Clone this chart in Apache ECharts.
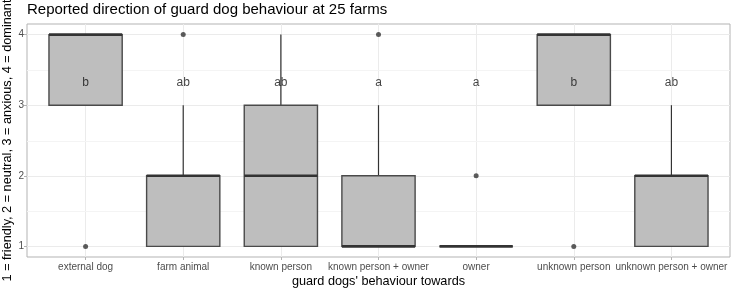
<!DOCTYPE html>
<html><head><meta charset="utf-8">
<script src="https://cdn.jsdelivr.net/npm/echarts@6/dist/echarts.min.js"></script>
<style>html,body{margin:0;padding:0;background:#fff}#c{width:732px;height:288px}</style>
</head><body><div id="c"></div>
<script>
const categories = ['external dog','farm animal','known person','known person + owner','owner','unknown person','unknown person + owner'];
const lowerWhisker = [3, 1, 1, 1, 1, 3, 1];
const q1Values     = [3, 1, 1, 1, 1, 3, 1];
const medianValues = [4, 2, 2, 1, 1, 4, 2];
const q3Values     = [4, 2, 3, 2, 1, 4, 2];
const upperWhisker = [4, 3, 4, 3, 1, 4, 3];
const outlierCats   = ['external dog','farm animal','known person + owner','owner','unknown person'];
const outlierValues = [1, 4, 4, 2, 1];
const letters = ['b','ab','ab','a','a','b','ab'];
const letterY = 3.32;
const yTicks = [1, 2, 3, 4];
const yMinor = [1.5, 2.5, 3.5];

const FONT = '"Liberation Sans", Arial, sans-serif';
const xPos = categories.map((c, i) => i + 1);
const boxData = categories.map((c, i) => [i + 1, lowerWhisker[i], q1Values[i], medianValues[i], q3Values[i], upperWhisker[i]]);
const outlierData = outlierCats.map((c, i) => [categories.indexOf(c) + 1, outlierValues[i]]);
const letterData = categories.map((c, i) => [i + 1, letterY, letters[i]]);

const chart = echarts.init(document.getElementById('c'), null, {renderer: 'canvas'});
chart.setOption({
  animation: false,
  title: {
    text: 'Reported direction of guard dog behaviour at 25 farms',
    left: 27, top: 2, padding: 0,
    textStyle: {fontFamily: FONT, fontSize: 15, fontWeight: 'normal', color: '#000'}
  },
  grid: {left: 27, right: 2, top: 24, bottom: 31, show: true, borderColor: '#b3b3b3', borderWidth: 1, backgroundColor: 'transparent', outerBoundsMode: 'none', containLabel: false},
  xAxis: {
    type: 'value', min: 0.4, max: 7.6,
    name: "guard dogs' behaviour towards", nameLocation: 'middle', nameGap: 18, nameMoveOverlap: false,
    nameTextStyle: {fontFamily: FONT, fontSize: 12.7, color: '#000'},
    axisLine: {show: false},
    axisTick: {show: true, customValues: xPos, length: 3, lineStyle: {color: '#b3b3b3'}},
    axisLabel: {customValues: xPos, formatter: v => categories[Math.round(v) - 1] || '', color: '#4d4d4d', fontFamily: FONT, fontSize: 10, margin: 5},
    splitLine: {show: true, lineStyle: {color: '#ebebeb', width: 1}}
  },
  yAxis: {
    type: 'value', min: 0.85, max: 4.15,
    name: '1 = friendly, 2 = neutral, 3 = anxious, 4 = dominant', nameLocation: 'middle', nameGap: 13, nameMoveOverlap: false,
    nameTextStyle: {fontFamily: FONT, fontSize: 12.7, color: '#000'},
    axisLine: {show: false},
    axisTick: {show: true, customValues: yTicks, length: 3, lineStyle: {color: '#b3b3b3'}},
    axisLabel: {customValues: yTicks, color: '#4d4d4d', fontFamily: FONT, fontSize: 10, margin: 3},
    splitLine: {show: true, lineStyle: {color: '#ebebeb', width: 1}}
  },
  series: [
    {
      type: 'custom',
      name: 'minor',
      silent: true,
      data: yMinor.map(v => [v]),
      renderItem: function (params, api) {
        const y = api.coord([0.4, api.value(0)])[1];
        const x0 = api.coord([0.4, 1])[0];
        const x1 = api.coord([7.6, 1])[0];
        return {type: 'line', shape: {x1: x0, y1: Math.round(y) + 0.5, x2: x1, y2: Math.round(y) + 0.5}, style: {stroke: '#f4f4f4', lineWidth: 1}};
      },
      z: 1
    },
    {
      type: 'custom',
      name: 'box',
      data: boxData,
      encode: {x: 0, y: [1, 2, 3, 4, 5]},
      renderItem: function (params, api) {
        const x = api.value(0);
        const halfW = 0.375;
        const pLow = api.coord([x, api.value(1)]);
        const pQ1 = api.coord([x, api.value(2)]);
        const pMed = api.coord([x, api.value(3)]);
        const pQ3 = api.coord([x, api.value(4)]);
        const pHigh = api.coord([x, api.value(5)]);
        const left = api.coord([x - halfW, 1])[0];
        const right = api.coord([x + halfW, 1])[0];
        const children = [];
        children.push({type: 'line', shape: {x1: pLow[0], y1: pLow[1], x2: pQ1[0], y2: pQ1[1]}, style: {stroke: '#333', lineWidth: 1.2}});
        children.push({type: 'line', shape: {x1: pQ3[0], y1: pQ3[1], x2: pHigh[0], y2: pHigh[1]}, style: {stroke: '#333', lineWidth: 1.2}});
        children.push({type: 'rect', shape: {x: left, y: pQ3[1], width: right - left, height: pQ1[1] - pQ3[1]}, style: {fill: '#bebebe', stroke: '#4a4a4a', lineWidth: 1.4}});
        children.push({type: 'line', shape: {x1: left, y1: pMed[1], x2: right, y2: pMed[1]}, style: {stroke: '#333', lineWidth: 2.6}});
        return {type: 'group', children: children};
      },
      z: 3
    },
    {
      type: 'scatter',
      name: 'outliers',
      data: outlierData,
      symbol: 'circle', symbolSize: 5,
      itemStyle: {color: '#333'},
      z: 4
    },
    {
      type: 'scatter',
      name: 'letters',
      data: letterData,
      symbolSize: 0,
      label: {show: true, position: 'inside', formatter: p => p.value[2], fontFamily: FONT, fontSize: 12, color: '#111'},
      z: 5
    }
  ]
});
</script>
</body></html>
